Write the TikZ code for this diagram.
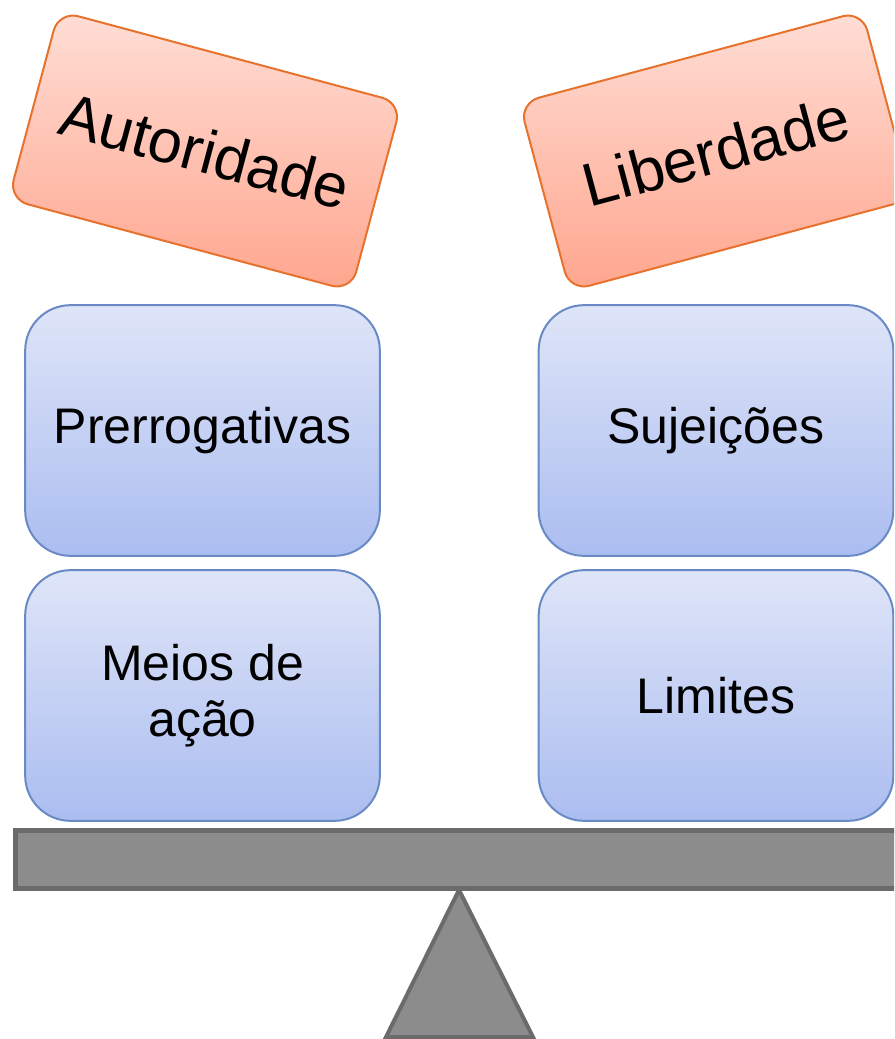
\documentclass[tikz,border=0pt]{standalone}
\usepackage{fontspec}
\setmainfont{Liberation Sans}
\usepackage{tikz}
\usepackage{xcolor}

\definecolor{tagtop}{HTML}{FFDED6}
\definecolor{tagbot}{HTML}{FFA68E}
\definecolor{tagline}{HTML}{E6722E}
\definecolor{boxtop}{HTML}{DFE5F8}
\definecolor{boxbot}{HTML}{ABBDF0}
\definecolor{boxline}{HTML}{6A8AC6}
\definecolor{beamfill}{HTML}{8C8C8C}
\definecolor{beamline}{HTML}{6B6B6B}

\begin{document}
\begin{tikzpicture}[
            x=0.75pt, y=0.75pt,
            tag/.style={rectangle, draw=tagline, line width=1.5pt, rounded corners=15pt, top color=tagtop, bottom color=tagbot, minimum width=266pt, minimum height=146pt, align=center, font=\fontsize{46}{52}\selectfont},
            box/.style={rectangle, draw=boxline, line width=1.5pt, rounded corners=34pt, top color=boxtop, bottom color=boxbot, minimum width=266pt, minimum height=188pt, align=center, font=\fontsize{37.5}{42}\selectfont},
            beam/.style={draw=beamline, fill=beamfill, line width=3.75pt}
        ]
            \clip (0,0) rectangle (894,-1039);

            \node[tag, rotate=-15] (autoridade) at (205,-151) {Autoridade};
            \node[tag, rotate=15] (liberdade) at (716,-151) {Liberdade};

            \node[box] (prerrogativas) at (202.5,-430.5) {Prerrogativas};
            \node[box] (meios) at (202.5,-695.5) {Meios de\\ação};
            \node[box] (sujeicoes) at (716,-430.5) {Sujeições};
            \node[box] (limites) at (716,-695.5) {Limites};

            % balance
            \draw[beam] (15,-830) rectangle (920,-888);
            \coordinate (apex) at (459,-890);
            \draw[beam, line width=3pt, line join=miter] (apex) -- (386,-1037) -- (533,-1037) -- cycle;
        \end{tikzpicture}
\end{document}
